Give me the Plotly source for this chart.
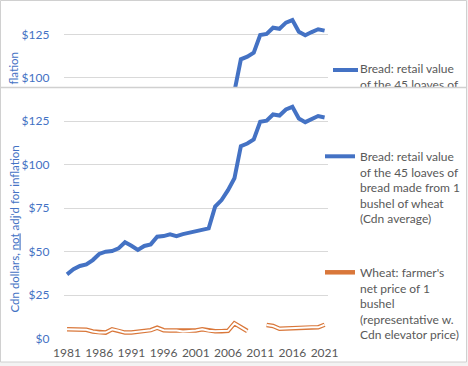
import plotly.graph_objects as go

W, H = 468, 366

years = list(range(1981, 2022))
bread = [36.9, 39.8, 41.7, 42.6, 45.1, 48.6, 49.9, 50.3, 51.8, 55.3,
         53.3, 50.9, 53.2, 54.1, 58.5, 58.9, 59.9, 58.9, 60.0, 60.8,
         61.5, 62.4, 63.3, 75.8, 79.6, 85.3, 92.1, 110.6, 112.1, 114.4,
         124.6, 125.2, 128.8, 128.2, 131.7, 133.2, 126.5, 124.4, 126.3, 127.9,
         127.1]
wheat = [5.3, 5.1, 5.1, 5.0, 4.0, 3.4, 3.4, 5.3, 4.5, 3.4,
         3.4, 3.8, 4.2, 4.8, 6.2, 4.8, 4.6, 4.6, 4.0, 4.2,
         4.6, 5.3, 4.5, 4.2, 4.2, 4.4, 8.7, 6.5, 4.3, None,
         None, 7.8, 7.2, 5.6, 5.8, 6.2, 6.4, 6.4, 6.4, 6.4,
         7.9]
xticks = [1981, 1986, 1991, 1996, 2001, 2006, 2011, 2016, 2021]

bread_name = "Bread: retail value<br>of the 45 loaves of<br>bread made from 1<br>bushel of wheat<br>(Cdn average)"
wheat_name = "Wheat: farmer's<br>net price of 1<br>bushel<br>(representative w.<br>Cdn elevator price)"
ytitle = "Cdn dollars, <u>not</u> adj'd for inflation"

BLUE = "#4472C4"
ORANGE = "#D9773A"
GRID = "#D9D9D9"
GRAY = "#595959"
FONT = "Lato"
FS = 12

def py(p):
    return 1 - p / H

def px(p):
    return p / W

fig = go.Figure()

# bottom (main) chart
fig.add_trace(go.Scatter(x=years, y=bread, mode="lines", name=bread_name,
                         line=dict(color=BLUE, width=4), legendgroup="b"))
fig.add_trace(go.Scatter(x=years, y=wheat, mode="lines", name=wheat_name,
                         line=dict(color=ORANGE, width=4.5), legendgroup="w"))
fig.add_trace(go.Scatter(x=years, y=wheat, mode="lines", showlegend=False,
                         line=dict(color="white", width=2), legendgroup="w"))

# top (cropped copy) chart
fig.add_trace(go.Scatter(x=years, y=bread, mode="lines", showlegend=False,
                         line=dict(color=BLUE, width=4), xaxis="x2", yaxis="y2"))
# cropped copy of the legend entry
fig.add_trace(go.Scatter(x=[333, 358], y=[70, 70], mode="lines", showlegend=False,
                         line=dict(color=BLUE, width=4), xaxis="x3", yaxis="y3"))
fig.add_trace(go.Scatter(x=[360, 360], y=[70, 85.6], mode="text", showlegend=False,
                         text=["Bread: retail value", "of the 45 loaves of"],
                         textposition="middle right",
                         textfont=dict(family=FONT, size=FS, color=GRAY),
                         cliponaxis=True, xaxis="x3", yaxis="y3"))

xr = [1980.5, 2021.5]
xdom = [px(63.8), px(327.8)]
tickstyle = dict(ticks="outside", tickcolor="rgba(0,0,0,0)", automargin=False)

fig.update_layout(
    width=W, height=H,
    margin=dict(l=0, r=0, t=0, b=0, autoexpand=False),
    paper_bgcolor="#F3F3F3",
    plot_bgcolor="rgba(0,0,0,0)",
    font=dict(family=FONT, size=FS, color=GRAY),
    showlegend=True,
    hovermode=False,
    legend=dict(x=px(320), y=py(142), xanchor="left", yanchor="top",
                bgcolor="rgba(0,0,0,0)", font=dict(family=FONT, size=FS, color=GRAY),
                valign="top", tracegroupgap=35),
    xaxis=dict(domain=xdom, range=xr, tickvals=xticks, showgrid=False, zeroline=False,
               showline=False, tickangle=0, ticklen=3, **tickstyle,
               tickfont=dict(family=FONT, size=FS, color=GRAY), anchor="y"),
    yaxis=dict(domain=[py(338.5), py(95)], range=[0, 140], dtick=25, tickprefix="$",
               showgrid=True, gridcolor=GRID, gridwidth=1, zeroline=False, showline=False,
               ticklen=11, **tickstyle,
               tickfont=dict(family=FONT, size=FS, color=BLUE), anchor="x"),
    xaxis2=dict(domain=xdom, range=xr, showticklabels=False, showgrid=False,
                zeroline=False, ticks="", anchor="y2", automargin=False),
    yaxis2=dict(domain=[py(87), py(0)], range=[94.64, 144.76], dtick=25, tickprefix="$",
                showgrid=True, gridcolor=GRID, gridwidth=1, zeroline=False, showline=False,
                ticklen=11, **tickstyle,
                tickfont=dict(family=FONT, size=FS, color=BLUE), anchor="x2"),
    xaxis3=dict(domain=[0, 1], range=[0, W], visible=False, anchor="y3", automargin=False),
    yaxis3=dict(domain=[py(87), py(0)], range=[87, 0], visible=False, anchor="x3",
                automargin=False),
    shapes=[
        dict(type="rect", xref="paper", yref="paper", x0=px(0.5), x1=px(466.5),
             y0=py(362), y1=py(0.5), line=dict(color="#D0D0D0", width=1),
             fillcolor="white", layer="below"),
        dict(type="line", xref="paper", yref="paper", x0=px(0.5), x1=px(466.5),
             y0=py(87.5), y1=py(87.5), line=dict(color="#D0D0D0", width=1.5)),
    ],
    annotations=[
        dict(text=ytitle, xref="paper", yref="paper", x=px(13.5), y=py(229),
             textangle=-90, showarrow=False, xanchor="center", yanchor="middle",
             font=dict(family=FONT, size=11.5, color=BLUE)),
        dict(text="flation", xref="paper", yref="paper", x=px(13.5), y=py(87),
             textangle=-90, showarrow=False, xanchor="center", yanchor="bottom",
             font=dict(family=FONT, size=11.5, color=BLUE)),
    ],
)

fig.write_html("out.html", config={"displayModeBar": False},
               post_script="document.body.style.margin='0';")
